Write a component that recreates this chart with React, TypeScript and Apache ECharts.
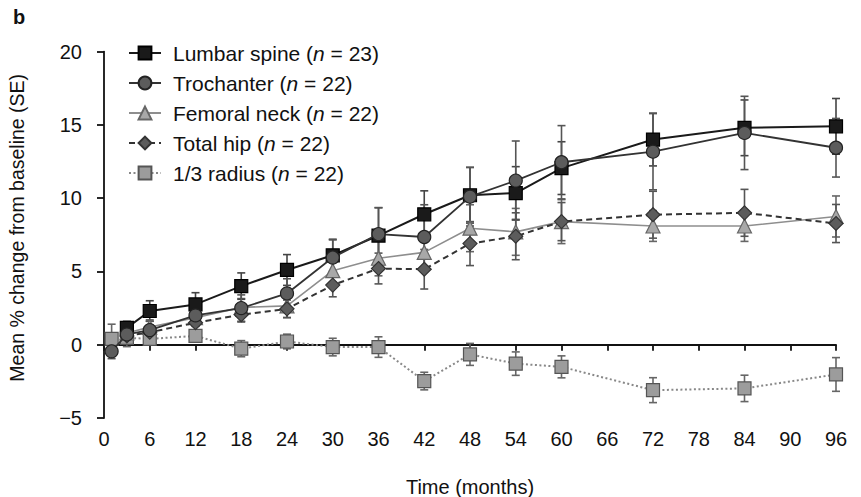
import React, { useEffect, useRef } from 'react';
import * as echarts from 'echarts';

// ---- data ----
const seriesNames = ['Lumbar spine', 'Trochanter', 'Femoral neck', 'Total hip', '1/3 radius'];
const nValues = [23, 22, 22, 22, 22];

const monthsFrom1 = [1, 3, 6, 12, 18, 24, 30, 36, 42, 48, 54, 60, 72, 84, 96];
const monthsFrom3 = [3, 6, 12, 18, 24, 30, 36, 42, 48, 54, 60, 72, 84, 96];

const lumbarSpine = [1.15, 2.3, 2.75, 4.0, 5.1, 6.1, 7.45, 8.9, 10.2, 10.35, 12.05, 14.0, 14.8, 14.9];
const lumbarSE = [0.45, 0.7, 0.8, 0.9, 1.05, 1.1, 1.9, 1.6, 1.9, 1.8, 1.8, 1.8, 1.9, 1.9];

const trochanter = [-0.45, 0.7, 1.0, 2.0, 2.5, 3.5, 5.95, 7.55, 7.35, 10.1, 11.2, 12.45, 13.17, 14.45, 13.44];
const trochanterSE = [0.5, 0.5, 0.6, 0.7, 0.9, 1.0, 1.2, 1.8, 2.2, 2.0, 2.7, 2.5, 2.6, 2.5, 2.0];

const femoralNeck = [0.8, 1.2, 1.85, 2.55, 2.65, 5.05, 5.9, 6.3, 7.95, 7.7, 8.4, 8.1, 8.1, 8.75];
const femoralNeckSE = [0.4, 0.5, 0.6, 0.6, 0.8, 0.8, 1.2, 1.2, 1.6, 1.6, 1.5, 1.05, 1.05, 1.4];

const totalHip = [0.6, 0.85, 1.5, 2.05, 2.45, 4.07, 5.2, 5.15, 6.9, 7.4, 8.4, 8.87, 9.0, 8.27];
const totalHipSE = [0.4, 0.5, 0.5, 0.5, 0.6, 0.8, 1.05, 1.35, 1.5, 1.6, 1.3, 1.6, 1.6, 1.3];

const radius = [0.4, 0.47, 0.4, 0.6, -0.27, 0.22, -0.16, -0.16, -2.48, -0.66, -1.29, -1.51, -3.1, -2.98, -2.03];
const radiusSE = [1.0, 0.6, 0.4, 0.4, 0.55, 0.5, 0.6, 0.7, 0.6, 0.75, 0.8, 0.75, 0.85, 0.9, 1.15];

const FONT = '"Liberation Sans", Arial, Helvetica, sans-serif';

function pairs(xs: number[], ys: number[]) {
  return xs.map((x, i) => [x, ys[i]]);
}
function triples(xs: number[], ys: number[], es: number[]) {
  return xs.map((x, i) => [x, ys[i], es[i]]);
}

function errorSeries(name: string, data: number[][], color: string, z: number) {
  return {
    type: 'custom',
    name: name + ' SE',
    data,
    z,
    silent: true,
    encode: { x: 0, y: 1 },
    renderItem: (params: any, api: any) => {
      const x = api.value(0);
      const y = api.value(1);
      const se = api.value(2);
      const top = api.coord([x, y + se]);
      const bot = api.coord([x, y - se]);
      const cap = 4;
      const style = { stroke: color, lineWidth: 1.6 };
      return {
        type: 'group',
        children: [
          { type: 'line', shape: { x1: top[0], y1: top[1], x2: bot[0], y2: bot[1] }, style },
          { type: 'line', shape: { x1: top[0] - cap, y1: top[1], x2: top[0] + cap, y2: top[1] }, style },
          { type: 'line', shape: { x1: bot[0] - cap, y1: bot[1], x2: bot[0] + cap, y2: bot[1] }, style },
        ],
      };
    },
  };
}

export default function App() {
  const ref = useRef<HTMLDivElement>(null);

  useEffect(() => {
    document.body.style.margin = '0';
    if (!ref.current) return;
    const chart = echarts.init(ref.current, undefined, { renderer: 'svg' });

    const lineSeries = (
      name: string,
      data: number[][],
      symbol: string,
      size: number,
      fill: string,
      border: string,
      lineColor: string,
      lineWidth: number,
      lineType: any,
      z: number
    ) => ({
      type: 'line',
      name,
      data,
      z,
      symbol,
      symbolSize: size,
      showAllSymbol: true,
      itemStyle: { color: fill, borderColor: border, borderWidth: 1.2 },
      lineStyle: { color: lineColor, width: lineWidth, type: lineType },
      emphasis: { disabled: true },
    });

    const option: any = {
      animation: false,
      textStyle: { fontFamily: FONT },
      grid: { left: 104, right: 25, top: 51.6, bottom: 79, containLabel: false, outerBoundsMode: 'none' },
      graphic: [
        {
          type: 'text',
          left: 13,
          top: 7,
          style: { text: 'b', font: `bold 20px ${FONT}`, fill: '#111' },
        },
      ],
      legend: {
        show: true,
        data: seriesNames,
        orient: 'vertical',
        left: 128,
        top: 42,
        padding: 0,
        itemWidth: 32,
        itemHeight: 16,
        itemGap: 8,
        selectedMode: false,
        formatter: (name: string) => {
          const i = seriesNames.indexOf(name);
          return `{f|${name} (}{i|n}{t| = ${nValues[i]})}`;
        },
        textStyle: {
          fontFamily: FONT,
          fontSize: 21,
          color: '#111',
          lineHeight: 22,
          rich: {
            f: { fontFamily: FONT, fontSize: 21, color: '#111', lineHeight: 22, padding: [0, 0, 0, 7] },
            t: { fontFamily: FONT, fontSize: 21, color: '#111', lineHeight: 22 },
            i: { fontFamily: FONT, fontSize: 21, color: '#111', fontStyle: 'italic', lineHeight: 22 },
          },
        },
      },
      xAxis: [
        {
          type: 'value',
          min: 0,
          max: 96,
          interval: 6,
          position: 'bottom',
          name: 'Time (months)',
          nameLocation: 'middle',
          nameGap: 59,
          nameTextStyle: { fontFamily: FONT, fontSize: 20, color: '#111' },
          axisLine: { show: false, onZero: false },
          axisTick: { show: false },
          splitLine: { show: false },
          axisLabel: { fontFamily: FONT, fontSize: 20, color: '#111', margin: 11 },
        },
        {
          type: 'value',
          min: 0,
          max: 96,
          interval: 6,
          position: 'top',
          axisLine: { show: true, onZero: true, lineStyle: { color: '#111', width: 1.8 } },
          axisTick: { show: true, inside: true, length: 6, lineStyle: { color: '#111', width: 1.8 } },
          splitLine: { show: false },
          axisLabel: { show: false },
        },
      ],
      yAxis: {
        type: 'value',
        min: -5,
        max: 20,
        interval: 5,
        name: 'Mean % change from baseline (SE)',
        nameLocation: 'middle',
        nameGap: 77,
        nameTextStyle: { fontFamily: FONT, fontSize: 19.5, color: '#111', padding: [0, 0, 0, 14] },
        axisLine: { show: true, onZero: false, lineStyle: { color: '#111', width: 1.8 } },
        axisTick: { show: true, length: 7, lineStyle: { color: '#111', width: 1.8 } },
        splitLine: { show: false },
        axisLabel: {
          fontFamily: FONT,
          fontSize: 20,
          color: '#111',
          margin: 22,
          formatter: (v: number) => (v < 0 ? '\u2212' + Math.abs(v) : String(v)),
        },
      },
      series: [
        errorSeries('1/3 radius', triples(monthsFrom1, radius, radiusSE), '#666', 1),
        errorSeries('Femoral neck', triples(monthsFrom3, femoralNeck, femoralNeckSE), '#666', 1),
        errorSeries('Total hip', triples(monthsFrom3, totalHip, totalHipSE), '#555', 1),
        errorSeries('Lumbar spine', triples(monthsFrom3, lumbarSpine, lumbarSE), '#444', 1),
        errorSeries('Trochanter', triples(monthsFrom1, trochanter, trochanterSE), '#555', 1),
        lineSeries('1/3 radius', pairs(monthsFrom1, radius), 'rect', 13, '#9c9c9c', '#555', '#888', 2, [2, 2.5], 3),
        lineSeries('Femoral neck', pairs(monthsFrom3, femoralNeck), 'triangle', 14, '#a8a8a8', '#666', '#8e8e8e', 1.6, 'solid', 4),
        lineSeries('Total hip', pairs(monthsFrom3, totalHip), 'diamond', 14, '#5c5c5c', '#333', '#333', 2, [6, 4], 5),
        lineSeries('Lumbar spine', pairs(monthsFrom3, lumbarSpine), 'rect', 13, '#1a1a1a', '#000', '#1a1a1a', 2, 'solid', 6),
        lineSeries('Trochanter', pairs(monthsFrom1, trochanter), 'circle', 13, '#5c5c5c', '#222', '#333', 1.8, 'solid', 7),
      ],
    };

    chart.setOption(option);
    return () => chart.dispose();
  }, []);

  return (
    <div
      ref={ref}
      style={{ position: 'fixed', left: 0, top: 0, width: 861, height: 497, background: '#fff' }}
    />
  );
}
